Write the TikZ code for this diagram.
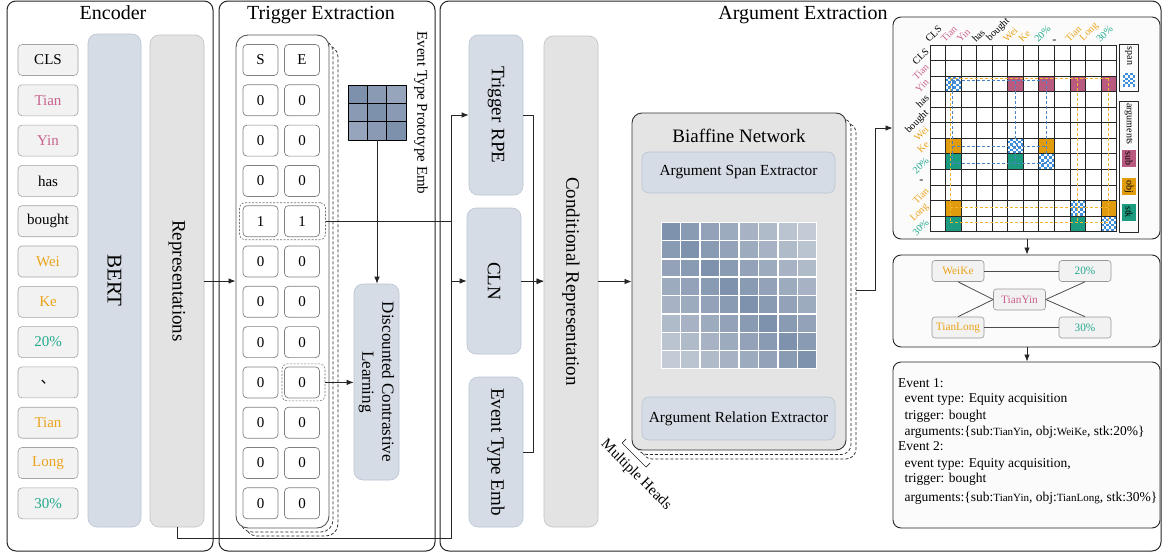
\documentclass[tikz,border=0pt]{standalone}
\usepackage{fontspec}
\setmainfont{Liberation Serif}
\newfontfamily\cjkfont{Noto Sans CJK SC}
\usetikzlibrary{arrows.meta,calc}
\newcommand\fsz[2]{\fontsize{#1}{#2}\selectfont}
\newcommand\nm[1]{{\fsz{11}{13}#1}}
\definecolor{tokfill}{HTML}{F2F2F2}
\definecolor{tokdraw}{HTML}{A3A3A3}
\definecolor{bluefill}{HTML}{D6DCE5}
\definecolor{bluedraw}{HTML}{B9C4D4}
\definecolor{grayfill}{HTML}{E3E3E3}
\definecolor{graydraw}{HTML}{C2C2C2}
\definecolor{biafill}{HTML}{E4E4E4}
\definecolor{boxfill}{HTML}{FBFBFB}
\definecolor{cpink}{HTML}{C8628E}
\definecolor{corange}{HTML}{EBA31A}
\definecolor{cteal}{HTML}{22A98C}
\definecolor{csub}{HTML}{B95B80}
\definecolor{cobj}{HTML}{E09C0C}
\definecolor{cstk}{HTML}{1B9C80}
\definecolor{cspan}{HTML}{3D8FDB}
\definecolor{hmdark}{HTML}{7F92AD}
\definecolor{hmlight}{HTML}{CBD1DA}
\definecolor{protodark}{HTML}{7D90AC}
\definecolor{protolight}{HTML}{A8B3C6}
\definecolor{bxline}{HTML}{595959}
\definecolor{cellline}{HTML}{808080}
\definecolor{dashblue}{HTML}{4A82C6}
\definecolor{dashorange}{HTML}{F4B52E}
\begin{document}
\begin{tikzpicture}[x=1pt,y=-1pt,line join=round,
 panel/.style={draw=black!85, line width=1pt, rounded corners=9pt, inner sep=0pt},
 ptitle/.style={font=\fsz{20}{24}, inner sep=0pt, anchor=base},
 tok/.style={draw=tokdraw, fill=tokfill, rounded corners=4pt, minimum width=60pt, minimum height=31pt, inner sep=0pt, font=\fsz{15}{18}, line width=0.6pt},
 bbox/.style={fill=bluefill, draw=bluedraw, rounded corners=9pt, inner sep=0pt, line width=0.6pt},
 gbox/.style={fill=grayfill, draw=graydraw, rounded corners=9pt, inner sep=0pt, line width=0.6pt},
 vlab/.style={rotate=-90, font=\fsz{19}{22}, inner sep=0pt},
 tcell/.style={draw=cellline, fill=white, rounded corners=4pt, minimum width=35pt, minimum height=31pt, inner sep=0pt, font=\fsz{15}{18}, line width=0.7pt},
 arr/.style={-{Latex[length=7pt,width=5.5pt]}, line width=0.8pt, draw=black!85},
 conn/.style={line width=0.8pt, draw=black!85},
 hlbox/.style={draw=black!55, dash pattern=on 2pt off 1.5pt, rounded corners=5pt, line width=0.6pt, inner sep=0pt},
 stackdash/.style={draw=black!85, dash pattern=on 3pt off 2pt, line width=0.7pt},
 mlab/.style={rotate=45, font=\fsz{10}{12}, inner sep=0.3pt},
 gnode/.style={draw=black!40, fill=tokfill, rounded corners=3pt, minimum width=52pt, minimum height=21pt, inner sep=0pt, font=\fsz{11.3}{13}, line width=0.6pt},
 wbox/.style={draw=black!85, fill=boxfill, rounded corners=8pt, line width=0.9pt, inner sep=0pt},
 evline/.style={anchor=base west, font=\fsz{13.5}{16}, inner sep=0pt},
 legtxt/.style={rotate=-90, font=\fsz{10}{12}, inner sep=0pt}
]
\useasboundingbox (0,0) rectangle (1162,554);
\fill[white] (0,0) rectangle (1162,554);

% ---------------- panels ----------------
\node[panel, minimum width=206pt, minimum height=550pt] (pEnc) at (110,276) {};
\node[panel, minimum width=216pt, minimum height=550pt] (pTrig) at (327,276) {};
\node[panel, minimum width=721pt, minimum height=550pt] (pArg) at (800.5,276) {};
\node[ptitle] (tEnc) at (113,19.5) {Encoder};
\node[ptitle] (tTrig) at (321,19.5) {Trigger Extraction};
\node[ptitle] (tArg) at (803,19.5) {Argument Extraction};

% ---------------- encoder ----------------
\foreach \tw/\tc [count=\i from 0] in {CLS/black, Tian/cpink, Yin/cpink, has/black, bought/black, Wei/corange, Ke/corange, 20\%/cteal, {\cjkfont 、}/black, Tian/corange, Long/corange, 30\%/cteal}
  \node[tok, text=\tc] (tok\i) at (48,{60+40.3*\i}) {\tw};
\node[bbox, minimum width=53pt, minimum height=493pt] (bert) at (114.5,280.5) {};
\node[vlab, font=\fsz{21}{24}] (bertT) at (bert) {BERT};
\node[gbox, minimum width=54pt, minimum height=492pt] (rep) at (177,281) {};
\node[vlab] (repT) at (rep) {Representations};

% ---------------- trigger extraction ----------------
\draw[stackdash, rounded corners=12pt] (245,45) rectangle (338,536);
\draw[stackdash, fill=white, rounded corners=12pt] (240,40) rectangle (333,532);
\node[draw=bxline, fill=white, rounded corners=12pt, line width=0.9pt, minimum width=93pt, minimum height=493pt, inner sep=0pt] (tcol) at (282.5,281.5) {};
\node[tcell] (cS) at (260.5,60) {S};
\node[tcell] (cE) at (302,60) {E};
\foreach \i in {1,...,11}{
  \ifnum\i=4 \def\val{1}\else\def\val{0}\fi
  \node[tcell] (cs\i) at (260.5,{60+40.3*\i}) {\val};
  \node[tcell] (ce\i) at (302,{60+40.3*\i}) {\val};
}
\node[hlbox, minimum width=86pt, minimum height=37pt] (hl1) at (282.5,221.2) {};
\node[hlbox, minimum width=43pt, minimum height=37pt] (hl2) at (303.5,382.4) {};

% prototype embedding grid
\foreach \r in {0,1,2}{
  \foreach \c in {0,1,2}{
    \pgfmathtruncatemacro\dd{100-abs(\r-\c)*30}
    \draw[black, line width=0.8pt, fill=protodark!\dd!protolight] ({348+\c*19.33},{85+\r*18.33}) rectangle ++(19.33,18.33);
  }
}
\node[minimum width=58pt, minimum height=55pt, inner sep=0pt] (proto) at (377,112.5) {};
\node[rotate=-90, font=\fsz{15}{18}, inner sep=0pt] (protoT) at (421,113) {Event Type Prototype Emb};
\node[bbox, minimum width=45pt, minimum height=196pt] (dcl) at (376.5,382) {};
\node[rotate=-90, font=\fsz{17}{20}, align=center, inner sep=0pt] (dclT) at (dcl) {Discounted Contrastive\\Learning};
\draw[arr] (proto.south) -- (proto.south |- dcl.north);
\draw[arr] (hl2.east) -- (dcl.west |- hl2.east);

% ---------------- argument extraction: left part ----------------
\node[bbox, minimum width=54pt, minimum height=160pt] (rpe) at (496,115) {};
\node[vlab] (rpeT) at (rpe) {Trigger\hspace{6pt}RPE};
\node[bbox, minimum width=54pt, minimum height=146pt] (cln) at (494,281) {};
\node[vlab] (clnT) at (cln) {CLN};
\node[bbox, minimum width=54pt, minimum height=150pt] (ete) at (496,452) {};
\node[vlab] (eteT) at (ete) {Event Type Emb};
\node[gbox, minimum width=54pt, minimum height=491pt] (crep) at (571,281.5) {};
\node[vlab] (crepT) at (crep) {Conditional Representation};

\draw[arr] (rep.east) -- (tcol.west |- rep.east);
\coordinate (jl) at (451,538);
\draw[arr] (rep.south) |- (jl) |- (rpe.west);
\draw[arr] (jl |- cln.west) -- (cln.west);
\draw[conn] (hl1.east) -- (jl |- hl1.east);
\coordinate (jm) at (533,281.5);
\draw[conn] (rpe.east) -| (jm);
\draw[conn] (ete.east) -| (jm);
\draw[arr] (jm) -- (crep.west);
\draw[arr] (cln.east) -- (cln.east -| crep.west);

% ---------------- biaffine ----------------
\draw[stackdash, rounded corners=10pt] (642,123) rectangle (856,459);
\draw[stackdash, fill=white, rounded corners=10pt] (637,118) rectangle (851,454.5);
\node[draw=black!80, fill=biafill, rounded corners=10pt, line width=0.9pt, minimum width=214pt, minimum height=337pt, inner sep=0pt] (biaf) at (739,281.5) {};
\node[font=\fsz{19}{22}, anchor=base, inner sep=0pt] (biafT) at (739,142.5) {Biaffine Network};
\node[bbox, rounded corners=7pt, minimum width=193pt, minimum height=41pt, font=\fsz{15.4}{18}] (ase) at (738.5,172.5) {Argument Span Extractor};
\node[bbox, rounded corners=7pt, minimum width=193pt, minimum height=43pt, font=\fsz{15.4}{18}] (are) at (738.5,418.5) {Argument Relation Extractor};
\fill[white] (661,222) rectangle (817,369);
\foreach \r in {0,...,7}{
  \foreach \c in {0,...,7}{
    \pgfmathtruncatemacro\dd{100-abs(\r-\c)*13}
    \fill[hmdark!\dd!hmlight] ({661.8+\c*19.5},{222.8+\r*18.38}) rectangle ++(17.9,16.8);
  }
}
\draw[arr] (crep.east) -- (biaf.west |- crep.east);
\node[rotate=-45, font=\fsz{15}{18}, inner sep=0pt] (mh) at (636,475) {Multiple Heads};
\draw[conn, line width=0.7pt] (626,439) -- (622,443) -- (646,467) -- (650,463);

% ---------------- right column ----------------
\node[wbox, minimum width=267pt, minimum height=222pt] (mbox) at (1026.5,128) {};
\node[wbox, minimum width=267pt, minimum height=92pt] (gbx) at (1026.5,301) {};
\node[wbox, minimum width=267pt, minimum height=166pt] (tbx) at (1026.5,445) {};
\coordinate (bout) at (856,290);
\draw[arr] (bout) -- (875,290) |- (mbox.west);
\draw[arr] (mbox.south -| 1027,0) -- (gbx.north -| 1027,0);
\draw[arr] (gbx.south -| 1027,0) -- (tbx.north -| 1027,0);

% matrix
\begin{scope}[shift={(930,45)}, x=15.55pt, y=-15.55pt]
  \fill[white] (0,0) rectangle (12,12);
  \foreach \r/\c in {2/5,2/7,2/9,2/11} \fill[csub] (\c,\r) rectangle ++(1,1);
  \foreach \r/\c in {6/1,6/7,10/1,10/11} \fill[cobj] (\c,\r) rectangle ++(1,1);
  \foreach \r/\c in {7/1,7/5,11/1,11/9} \fill[cstk] (\c,\r) rectangle ++(1,1);
  \foreach \r/\c in {2/1,6/5,7/7,10/9,11/11}{
    \fill[cspan] (\c,\r) rectangle ++(1,1);
    \foreach \a in {0,...,5}{
      \foreach \b in {0,...,5}{
        \pgfmathtruncatemacro\pp{mod(\a+\b,2)}
        \ifnum\pp=0 \fill[white] ({\c+\a/6},{\r+\b/6}) rectangle ++(1/6,1/6);\fi
      }
    }
  }
  \foreach \i in {0,...,12}{
    \draw[black!85, line width=0.8pt] (\i,0) -- (\i,12);
    \draw[black!85, line width=0.8pt] (0,\i) -- (12,\i);
  }
  \begin{scope}[dashorange, line width=0.9pt, dash pattern=on 3pt off 2pt]
    \draw (1.3,2.15) -- (11.5,2.15);
    \draw (1.3,10.45) -- (11.5,10.45);
    \draw (1.3,11.43) -- (11.5,11.43);
    \draw (1.3,2.15) -- (1.3,11.43);
    \draw (9.45,2.15) -- (9.45,11.43);
    \draw (11.5,2.15) -- (11.5,11.43);
  \end{scope}
  \begin{scope}[dashblue, line width=0.9pt, dash pattern=on 3pt off 2pt]
    \draw (1.42,2.3) -- (7.5,2.3);
    \draw (1.42,6.5) -- (7.5,6.5);
    \draw (1.42,7.6) -- (7.5,7.6);
    \draw (1.42,2.3) -- (1.42,7.6);
    \draw (5.5,2.3) -- (5.5,7.6);
    \draw (7.5,2.3) -- (7.5,7.6);
  \end{scope}
\end{scope}
\foreach \tw/\tc [count=\i from 0] in {CLS/black, Tian/cpink, Yin/cpink, has/black, bought/black, Wei/corange, Ke/corange, 20\%/cteal, {\cjkfont 、}/black, Tian/corange, Long/corange, 30\%/cteal}{
  \node[mlab, text=\tc, anchor=south west] (cl\i) at ({929.5+15.55*\i},43.5) {\tw};
  \node[mlab, text=\tc, anchor=east] (rl\i) at (927.5,{45+15.55*(\i+0.3)}) {\tw};
}

% legend
\node[draw=black!85, line width=0.8pt, minimum width=19pt, minimum height=47.5pt, inner sep=0pt] (lgspan) at (1128.7,67.8) {};
\node[legtxt] (lgspanT) at (1128.7,56) {span};
\fill[cspan] (1122.5,73) rectangle (1135,86.5);
\foreach \a in {0,...,4}{
  \foreach \b in {0,...,5}{
    \pgfmathtruncatemacro\pp{mod(\a+\b,2)}
    \ifnum\pp=0 \fill[white] ({1122.5+\a*2.5},{73+\b*2.25}) rectangle ++(2.5,2.25);\fi
  }
}
\node[draw=black!85, line width=0.8pt, minimum width=19pt, minimum height=131pt, inner sep=0pt] (lgarg) at (1128.7,166.5) {};
\node[legtxt] (lgargT) at (1128.7,124) {arguments};
\node[fill=csub, minimum width=17pt, minimum height=14pt, legtxt] (lgsub) at (1129,158.5) {sub};
\node[fill=cobj, minimum width=17pt, minimum height=14pt, legtxt] (lgobj) at (1129,186.5) {obj};
\node[fill=cstk, minimum width=17pt, minimum height=14pt, legtxt] (lgstk) at (1129,212) {stk};

% graph
\node[gnode, text=corange] (gwk) at (958,271) {WeiKe};
\node[gnode, text=cteal] (g20) at (1085,271) {20\%};
\node[gnode, text=cpink] (gty) at (1019.5,299.5) {TianYin};
\node[gnode, text=corange] (gtl) at (958,327.5) {TianLong};
\node[gnode, text=cteal] (g30) at (1085,327.5) {30\%};
\draw[conn, draw=black!70] (gwk) -- (g20);
\draw[conn, draw=black!70] (gtl) -- (g30);
\draw[conn, draw=black!70] (gwk.south) -- (gty.west);
\draw[conn, draw=black!70] (gtl.north) -- (gty.west);
\draw[conn, draw=black!70] (g20.south) -- (gty.east);
\draw[conn, draw=black!70] (g30.north) -- (gty.east);

% event text
\node[evline] (ev1) at (898,387) {Event 1:};
\node[evline] (ev2) at (904.5,402.5) {event type: Equity acquisition};
\node[evline] (ev3) at (904.5,419) {trigger: bought};
\node[evline] (ev4) at (904.5,435) {arguments:\{sub:\nm{TianYin}, obj:\nm{WeiKe}, stk:20\%\}};
\node[evline] (ev5) at (898,450) {Event 2:};
\node[evline] (ev6) at (904.5,467.5) {event type: Equity acquisition,};
\node[evline] (ev7) at (904.5,482.5) {trigger: bought};
\node[evline] (ev8) at (904.5,501) {arguments:\{sub:\nm{TianYin}, obj:\nm{TianLong}, stk:30\%\}};
\end{tikzpicture}
\end{document}
